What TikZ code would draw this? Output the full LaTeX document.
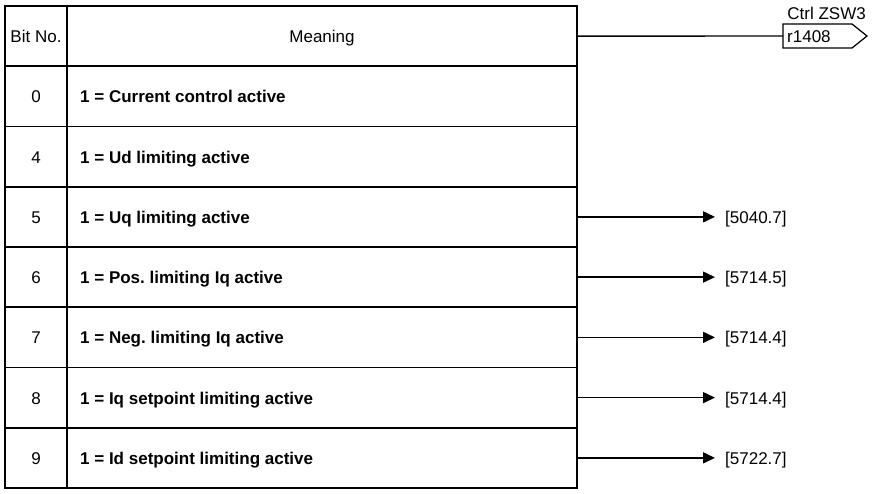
\documentclass[tikz,border=0pt]{standalone}
\usepackage{fontspec}
\setmainfont{Liberation Sans}
\usetikzlibrary{arrows.meta}
\frenchspacing
\begin{document}
\begin{tikzpicture}[x=1pt,y=-1pt,
  font=\fontsize{17}{20}\selectfont,
  rowbox/.style={draw, line width=1.6pt, minimum width=572pt, minimum height=60.25pt, inner sep=0pt},
  bitno/.style={anchor=base, inner sep=0pt},
  meaning/.style={anchor=base west, inner sep=0pt, font=\fontsize{17}{20}\selectfont\bfseries},
  reflbl/.style={anchor=base west, inner sep=0pt},
  arr/.style={line width=1.5pt, -{Triangle[length=12pt,width=11pt]}}
]
\useasboundingbox (0,0) rectangle (876,493);
% rows: header + 7 bit rows
\node[rowbox] (hdr) at (291,36.125) {};
\foreach \i/\b/\t in {1/0/Current control active,2/4/Ud limiting active,3/5/Uq limiting active,4/6/Pos. limiting Iq active,5/7/Neg. limiting Iq active,6/8/Iq setpoint limiting active,7/9/Id setpoint limiting active}{
  \pgfmathsetmacro{\yc}{36.125+60.25*\i}
  \node[rowbox] (r\b) at (291,\yc) {};
  \node[bitno] (n\b) at (36,\yc+6.5) {\b};
  \node[meaning] (m\b) at (80,\yc+6.5) {1 = \t};
}
\draw[line width=1.8pt] (67,6) -- (67,488);
\node[bitno] (hbit) at (36,42.5) {Bit No.};
\node[bitno] (hmean) at (322,42.5) {Meaning};
% output r1408
\coordinate (bx) at (783,36);
\draw[line width=1.2pt] (783,24) -- (852,24) -- (867,36) -- (852,48) -- (783,48) -- cycle;
\node[anchor=base west, inner sep=0pt] (r1408) at (787,42) {r1408};
\node[anchor=base east, inner sep=0pt] (zsw) at (866,19) {Ctrl ZSW3};
\draw[line width=1.4pt] (hdr.east) -- (bx);
% references
\foreach \b/\r in {5/5040.7,6/5714.5,7/5714.4,8/5714.4,9/5722.7}{
  \node[reflbl] (l\b) at (725,0 |- m\b.base) {[\r]};
  \coordinate (t\b) at (715,0 |- r\b.east);
  \draw[arr] (r\b.east) -- (t\b);
}
\end{tikzpicture}
\end{document}
